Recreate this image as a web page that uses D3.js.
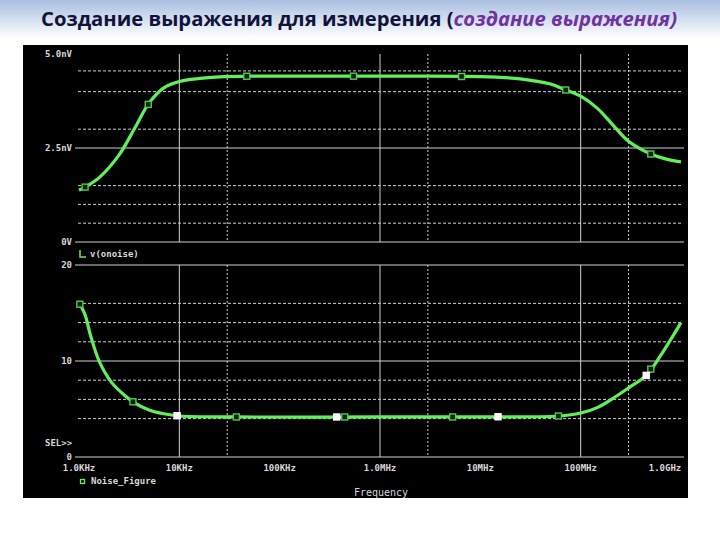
<!DOCTYPE html>
<html><head><meta charset="utf-8">
<script src="https://cdn.jsdelivr.net/npm/d3@7"></script>
<style>body{margin:0;background:#fff}svg{display:block}</style>
</head><body>
<svg id="c" width="720" height="540"></svg>
<script>
// ---- data ----
const titleMain = "Создание выражения для измерения (";
const titleItalic = "создание выражения)";
const xTickValues = [1e3, 1e4, 1e5, 1e6, 1e7, 1e8, 1e9];
const xTickLabels = ["1.0KHz", "10KHz", "100KHz", "1.0MHz", "10MHz", "100MHz", "1.0GHz"];
const xMajorGrid = [1e4, 1e6, 1e8];
const xMinorGrid = [3e4, 3e6, 3e8];

const topTickValues = [0, 2.5, 5.0];
const topTickLabels = ["0V", "2.5nV", "5.0nV"];
const topMinorGrid = [0.5, 1.0, 1.5, 3.0, 4.0, 4.55];
const botTickValues = [0, 10, 20];
const botTickLabels = ["0", "10", "20"];
const botMinorGrid = [4, 6, 8, 12, 14, 16];

const onoiseFreq = [1e3, 1.15e3, 1.6e3, 2.5e3, 3.6e3, 5e3, 7e3, 1e4, 1.6e4, 2.5e4, 5e4, 1e5, 1e6, 1e7, 2.5e7, 5e7, 7e7, 1e8, 1.46e8, 2.1e8, 3e8, 5e8, 7e8, 1e9];
const onoiseVal  = [1.38, 1.46, 1.72, 2.31, 3.03, 3.70, 4.10, 4.27, 4.35, 4.39, 4.41, 4.41, 4.41, 4.40, 4.34, 4.20, 4.05, 3.88, 3.56, 3.11, 2.68, 2.34, 2.21, 2.13];
const onoiseMarkers = [1.15e3, 4.9e3, 4.7e4, 5.45e5, 6.5e6, 7.1e7, 5e8];

const nfFreq = [1e3, 1.15e3, 1.3e3, 1.6e3, 2.1e3, 2.9e3, 3.5e3, 5e3, 7e3, 1e4, 3.7e4, 1e6, 1e7, 6e7, 1e8, 1.5e8, 2.2e8, 3e8, 4.5e8, 6.2e8, 1e9];
const nfVal  = [16.1, 14.8, 12.7, 9.9, 7.8, 6.35, 5.7, 4.9, 4.5, 4.27, 4.17, 4.17, 4.17, 4.27, 4.58, 5.2, 6.25, 7.2, 8.5, 10.5, 14.0];
const nfMarkers = [1.02e3, 3.45e3, 3.7e4, 4.45e5, 5.3e6, 6e7, 5e8];
const nfCursors = [9.5e3, 3.7e5, 1.5e7, 4.5e8];

// ---- layout ----
const svg = d3.select("#c");
const W = 720;
const green = "#63ee5c";
const grid = "#cfcfcf";
const txt = "#d8d8d8";
const mono = "'DejaVu Sans Mono', monospace";

// title background
const defs = svg.append("defs");
const lg = defs.append("linearGradient").attr("id", "tg").attr("x1", 0).attr("y1", 0).attr("x2", 0).attr("y2", 1);
lg.append("stop").attr("offset", "0%").attr("stop-color", "#a9bedf");
lg.append("stop").attr("offset", "55%").attr("stop-color", "#d7e2f1");
lg.append("stop").attr("offset", "100%").attr("stop-color", "#ffffff");
svg.append("rect").attr("x", 0).attr("y", 0).attr("width", W).attr("height", 38).attr("fill", "url(#tg)");

const t = svg.append("text").attr("x", 41).attr("y", 26)
  .attr("font-family", "'Open Sans', 'Noto Sans', sans-serif").attr("font-size", 19).attr("font-weight", "bold")
  .attr("textLength", 636).attr("lengthAdjust", "spacingAndGlyphs");
t.append("tspan").attr("fill", "#12123a").text(titleMain);
t.append("tspan").attr("fill", "#7032a0").attr("font-style", "italic").text(titleItalic);

// black plot panel
svg.append("rect").attr("x", 23).attr("y", 45).attr("width", 665).attr("height", 453).attr("fill", "#000");

// scales
const x = d3.scaleLog().domain([1e3, 1e9]).range([79, 681]);
const yTop = d3.scaleLinear().domain([0, 5]).range([242, 54]);
const yBot = d3.scaleLinear().domain([0, 20]).range([457, 265]);

function interp(freqs, vals, f) {
  const lf = Math.log10(f);
  for (let i = 0; i < freqs.length - 1; i++) {
    const a = Math.log10(freqs[i]), b = Math.log10(freqs[i + 1]);
    if (lf >= a && lf <= b) return vals[i] + (vals[i + 1] - vals[i]) * (lf - a) / (b - a);
  }
  return vals[vals.length - 1];
}

function panel(y, minor, solidVals, tickVals, tickLabels, topY, botY) {
  const g = svg.append("g");
  g.selectAll(".vmaj").data(xMajorGrid).join("line")
    .attr("x1", d => x(d)).attr("x2", d => x(d)).attr("y1", topY).attr("y2", botY)
    .attr("stroke", grid).attr("stroke-width", 1);
  g.selectAll(".vmin").data(xMinorGrid).join("line")
    .attr("x1", d => x(d)).attr("x2", d => x(d)).attr("y1", topY).attr("y2", botY)
    .attr("stroke", grid).attr("stroke-width", 1).attr("stroke-dasharray", "2,2");
  g.selectAll(".hmin").data(minor).join("line")
    .attr("x1", 78).attr("x2", 681).attr("y1", d => y(d)).attr("y2", d => y(d))
    .attr("stroke", grid).attr("stroke-width", 1).attr("stroke-dasharray", "3,2");
  g.selectAll(".hmaj").data(solidVals).join("line")
    .attr("x1", 75).attr("x2", 684).attr("y1", d => y(d)).attr("y2", d => y(d))
    .attr("stroke", grid).attr("stroke-width", 1);
  g.selectAll(".yl").data(tickVals).join("text")
    .attr("x", 72).attr("y", d => y(d) + 3)
    .attr("text-anchor", "end").attr("fill", txt).attr("font-family", mono).attr("font-size", 9).attr("font-weight", "bold")
    .text((d, i) => tickLabels[i]);
}

panel(yTop, topMinorGrid, [0, 2.5], topTickValues, topTickLabels, 54, 242);
panel(yBot, botMinorGrid, [0, 10, 20], botTickValues, botTickLabels, 265, 457);

svg.append("g").selectAll("text").data(xTickValues).join("text")
  .attr("x", (d, i) => i === xTickValues.length - 1 ? x(d) - 16 : x(d))
  .attr("y", 471).attr("text-anchor", "middle")
  .attr("fill", txt).attr("font-family", mono).attr("font-size", 9).attr("font-weight", "bold")
  .text((d, i) => xTickLabels[i]);

svg.append("text").attr("x", 381).attr("y", 496).attr("text-anchor", "middle")
  .attr("fill", txt).attr("font-family", mono).attr("font-size", 10).text("Frequency");
svg.append("text").attr("x", 45).attr("y", 446)
  .attr("fill", txt).attr("font-family", mono).attr("font-size", 9).attr("font-weight", "bold").text("SEL>>");

svg.append("path").attr("d", "M80,250 V257 H86").attr("fill", "none").attr("stroke", green).attr("stroke-width", 1.5);
svg.append("text").attr("x", 90).attr("y", 257).attr("fill", txt).attr("font-family", mono).attr("font-size", 9).attr("font-weight", "bold").text("v(onoise)");
svg.append("rect").attr("x", 80.5).attr("y", 479.5).attr("width", 4).attr("height", 4).attr("fill", "none").attr("stroke", green).attr("stroke-width", 1.3);
svg.append("text").attr("x", 91).attr("y", 484).attr("fill", txt).attr("font-family", mono).attr("font-size", 9).attr("font-weight", "bold").text("Noise_Figure");

const lineTop = d3.line().x((d, i) => x(onoiseFreq[i])).y(d => yTop(d)).curve(d3.curveCatmullRom.alpha(0.5));
svg.append("path").attr("d", lineTop(onoiseVal)).attr("fill", "none").attr("stroke", green).attr("stroke-width", 3.2);
const lineBot = d3.line().x((d, i) => x(nfFreq[i])).y(d => yBot(d)).curve(d3.curveCatmullRom.alpha(0.5));
svg.append("path").attr("d", lineBot(nfVal)).attr("fill", "none").attr("stroke", green).attr("stroke-width", 3.2);

function markers(freqs, vals, list, yS, fill, stroke) {
  svg.append("g").selectAll("rect").data(list).join("rect")
    .attr("x", d => x(d) - 3).attr("y", d => yS(interp(freqs, vals, d)) - 3)
    .attr("width", 6).attr("height", 6)
    .attr("fill", fill).attr("stroke", stroke).attr("stroke-width", 1.4);
}
markers(onoiseFreq, onoiseVal, onoiseMarkers, yTop, "#0e1f0e", "#55c855");
markers(nfFreq, nfVal, nfMarkers, yBot, "#0e1f0e", "#55c855");
markers(nfFreq, nfVal, nfCursors, yBot, "#fff4fb", "#ffffff");
</script>
</body></html>
